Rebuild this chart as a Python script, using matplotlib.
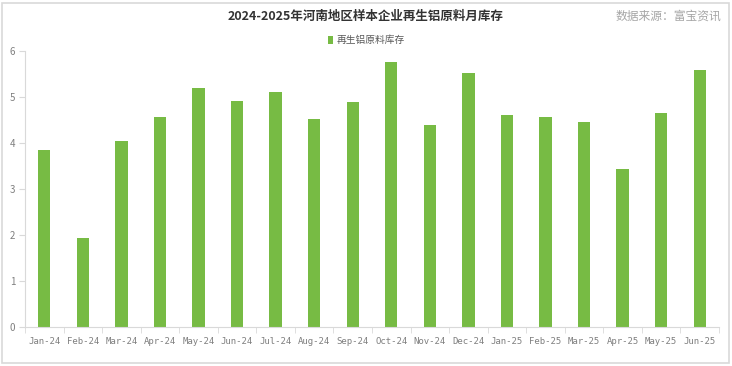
import numpy as np
import matplotlib.pyplot as plt
from matplotlib.patches import Rectangle

plt.rcParams['font.family'] = ['Noto Sans CJK SC', 'DejaVu Sans']

months = ['Jan-24', 'Feb-24', 'Mar-24', 'Apr-24', 'May-24', 'Jun-24', 'Jul-24', 'Aug-24', 'Sep-24',
          'Oct-24', 'Nov-24', 'Dec-24', 'Jan-25', 'Feb-25', 'Mar-25', 'Apr-25', 'May-25', 'Jun-25']
stock = [3.85, 1.94, 4.04, 4.57, 5.2, 4.91, 5.1, 4.52, 4.89,
         5.76, 4.39, 5.52, 4.61, 4.57, 4.46, 3.43, 4.65, 5.59]

green = '#77bb44'
axcol = '#d9d9d9'
txtcol = '#7f7f7f'

fig = plt.figure(figsize=(7.32, 3.66), dpi=100)
fig.patches.append(Rectangle((0.003, 0.008), 0.993, 0.985, transform=fig.transFigure,
                             fill=False, edgecolor=axcol, linewidth=1.2))
ax = fig.add_axes([25 / 732, 39 / 366, 694 / 732, 276 / 366])

x = np.arange(len(months))
ax.bar(x, stock, width=0.32, color=green, label='再生铝原料库存')

ax.set_xlim(-0.5, len(months) - 0.5)
ax.set_ylim(0, 6)
ax.set_yticks(range(7))
ax.set_xticks(x)
ax.set_xticklabels(months, family=['DejaVu Sans Mono'], fontsize=6.5, color=txtcol)
ax.set_xticks(np.arange(-0.5, len(months), 1), minor=True)
ax.tick_params(axis='x', which='major', length=0, pad=7)
ax.tick_params(axis='x', which='minor', length=4, color=axcol)
ax.tick_params(axis='y', length=4, color=axcol, labelsize=7, labelcolor=txtcol, pad=3)
for s in ['top', 'right']:
    ax.spines[s].set_visible(False)
for s in ['left', 'bottom']:
    ax.spines[s].set_color(axcol)

fig.text(0.5, 0.955, '2024-2025年河南地区样本企业再生铝原料月库存', ha='center', va='center',
         fontsize=9, fontweight='bold', color='#333333')
fig.text(0.985, 0.955, '数据来源：富宝资讯', ha='right', va='center', fontsize=8.5, color='#a6a6a6')
fig.legend(loc='center', bbox_to_anchor=(0.5, 0.89), frameon=False, fontsize=7,
           handlelength=0.6, handleheight=0.9, handletextpad=0.3, labelcolor='#595959')

fig.savefig('out.png', dpi=100)
